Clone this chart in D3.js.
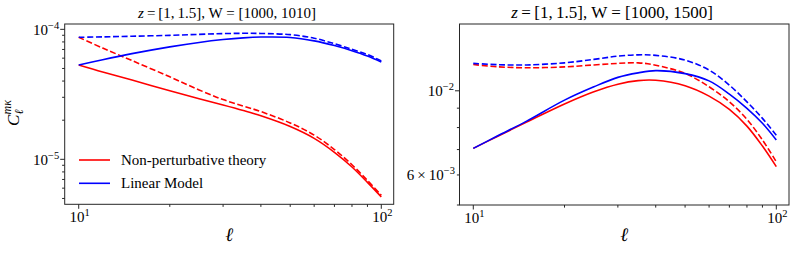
<!DOCTYPE html>
<html><head><meta charset="utf-8">
<script src="https://cdn.jsdelivr.net/npm/d3@7"></script>
<style>
body{margin:0;background:#fff}
svg{display:block}
svg text{font-family:"Liberation Serif","Times New Roman",Times,"DejaVu Serif",serif;fill:#000}
</style>
</head><body>
<svg id="chart" width="797" height="255"></svg>
<script>
// ---------------- data ----------------
const ell = [10, 12, 15, 20, 25, 30, 35, 40, 50, 60, 70, 80, 90, 100];

// left panel: z=[1,1.5], W=[1000,1010]
const leftRedSolid   = [5.31e-5, 4.69e-5, 4.07e-5, 3.37e-5, 2.92e-5, 2.617e-5, 2.372e-5, 2.16e-5, 1.787e-5, 1.449e-5, 1.132e-5, 8.73e-6, 6.65e-6, 5.14e-6];
const leftRedDashed  = [8.68e-5, 7.18e-5, 5.75e-5, 4.31e-5, 3.42e-5, 2.88e-5, 2.57e-5, 2.33e-5, 1.905e-5, 1.536e-5, 1.189e-5, 9.08e-6, 6.88e-6, 5.29e-6];
const leftBlueSolid  = [5.31e-5, 5.84e-5, 6.50e-5, 7.33e-5, 7.93e-5, 8.34e-5, 8.60e-5, 8.72e-5, 8.66e-5, 8.15e-5, 7.50e-5, 6.85e-5, 6.23e-5, 5.60e-5];
const leftBlueDashed = [8.68e-5, 8.75e-5, 8.85e-5, 8.99e-5, 9.15e-5, 9.27e-5, 9.32e-5, 9.30e-5, 9.10e-5, 8.55e-5, 7.75e-5, 7.02e-5, 6.40e-5, 5.72e-5];

// right panel: z=[1,1.5], W=[1000,1500]
const rightRedSolid   = [7.05e-3, 7.58e-3, 8.27e-3, 9.23e-3, 9.94e-3, 1.041e-2, 1.064e-2, 1.066e-2, 1.031e-2, 9.68e-3, 8.93e-3, 8.07e-3, 7.15e-3, 6.31e-3];
const rightRedDashed  = [1.173e-2, 1.157e-2, 1.150e-2, 1.156e-2, 1.170e-2, 1.181e-2, 1.185e-2, 1.168e-2, 1.111e-2, 1.025e-2, 9.35e-3, 8.41e-3, 7.42e-3, 6.50e-3];
const rightBlueSolid  = [7.05e-3, 7.60e-3, 8.32e-3, 9.45e-3, 1.0245e-2, 1.085e-2, 1.115e-2, 1.130e-2, 1.110e-2, 1.062e-2, 9.80e-3, 8.99e-3, 8.21e-3, 7.42e-3];
const rightBlueDashed = [1.181e-2, 1.172e-2, 1.170e-2, 1.185e-2, 1.210e-2, 1.234e-2, 1.244e-2, 1.240e-2, 1.205e-2, 1.134e-2, 1.035e-2, 9.35e-3, 8.46e-3, 7.64e-3];

const legendLabels = ["Non-perturbative theory", "Linear Model"];
const titles = [["z", "\u2009=\u2009[1,\u20091.5], W = [1000, 1010]"], ["z", "\u2009=\u2009[1,\u20091.5], W = [1000, 1500]"]];

const xMajor = [10, 100];
const xMajorLabels = [["", "10", "1"], ["", "10", "2"]];
const xMinor = [20, 30, 40, 50, 60, 70, 80, 90];

const leftYMajor = [1e-4, 1e-5];
const leftYMajorLabels = [["", "10", "\u22124"], ["", "10", "\u22125"]];
const leftYMinor = [9e-5, 8e-5, 7e-5, 6e-5, 5e-5, 4e-5, 3e-5, 2e-5, 9e-6, 8e-6, 7e-6, 6e-6, 5e-6];

const rightYMajor = [1e-2];
const rightYMajorLabels = [["", "10", "\u22122"]];
const rightYMinor = [9e-3, 8e-3, 7e-3, 6e-3, 5e-3];
const rightYMinorLabeled = [6e-3];
const rightYMinorLabels = [["6\u2009\u00d7\u200910", "", "\u22123"]];

// ---------------- drawing ----------------
const FONT = "'Liberation Serif', 'Times New Roman', Times, serif";
const svg = d3.select("#chart");
const RED = "#ff0000", BLUE = "#0000ff", AX = "#262626";

function txt(sel) {
  return sel.append("text").style("font-family", FONT);
}

function richLabel(sel, parts, fs) {
  const [pre, base, exp] = parts;
  if (pre) sel.append("tspan").text(pre);
  if (base) sel.append("tspan").text(base);
  sel.append("tspan").attr("font-size", fs * 0.7).attr("dy", -fs * 0.42).text(exp);
}

function panel(cfg, idx) {
  const g = svg.append("g");
  const x = d3.scaleLog().domain(cfg.xDomain).range([cfg.x0, cfg.x1]);
  const y = d3.scaleLog().domain(cfg.yDomain).range([cfg.y1, cfg.y0]);

  const clipId = "clip" + idx;
  svg.append("clipPath").attr("id", clipId).append("rect")
    .attr("x", cfg.x0).attr("y", cfg.y0).attr("width", cfg.x1 - cfg.x0).attr("height", cfg.y1 - cfg.y0);

  const line = d3.line().x((d, i) => x(ell[i])).y(d => y(d)).curve(d3.curveCatmullRom.alpha(0.5));
  const lg = g.append("g").attr("clip-path", `url(#${clipId})`);
  cfg.series.forEach(s => {
    lg.append("path").attr("d", line(s.values)).attr("fill", "none")
      .attr("stroke", s.color).attr("stroke-width", 1.6)
      .attr("stroke-dasharray", s.dashed ? "6,2.6" : null);
  });

  // frame
  g.append("rect").attr("x", cfg.x0).attr("y", cfg.y0).attr("width", cfg.x1 - cfg.x0).attr("height", cfg.y1 - cfg.y0)
    .attr("fill", "none").attr("stroke", AX).attr("stroke-width", 1);

  // x ticks
  xMajor.forEach((v, i) => {
    const px = x(v);
    g.append("line").attr("x1", px).attr("x2", px).attr("y1", cfg.y1).attr("y2", cfg.y1 + 4.5).attr("stroke", AX);
    const t = txt(g).attr("x", px + 1).attr("y", cfg.y1 + 18).attr("text-anchor", "middle").attr("font-size", 15);
    richLabel(t, xMajorLabels[i], 15);
  });
  xMinor.forEach(v => {
    const px = x(v);
    g.append("line").attr("x1", px).attr("x2", px).attr("y1", cfg.y1).attr("y2", cfg.y1 + 2.6).attr("stroke", AX);
  });

  // y ticks
  cfg.yMajor.forEach((v, i) => {
    const py = y(v);
    g.append("line").attr("x1", cfg.x0 - 4.5).attr("x2", cfg.x0).attr("y1", py).attr("y2", py).attr("stroke", AX);
    const t = txt(g).attr("x", cfg.x0 - 5.5).attr("y", py + 5.5).attr("text-anchor", "end").attr("font-size", 15);
    richLabel(t, cfg.yMajorLabels[i], 15);
  });
  cfg.yMinor.forEach(v => {
    const py = y(v);
    g.append("line").attr("x1", cfg.x0 - 2.6).attr("x2", cfg.x0).attr("y1", py).attr("y2", py).attr("stroke", AX);
  });
  (cfg.yMinorLabeled || []).forEach((v, i) => {
    const py = y(v);
    const t = txt(g).attr("x", cfg.x0 - 4.5).attr("y", py + 5.5).attr("text-anchor", "end").attr("font-size", 15);
    richLabel(t, cfg.yMinorLabels[i], 15);
  });

  // title
  const tt = txt(g).attr("x", cfg.titleX).attr("y", 18).attr("text-anchor", "middle").attr("font-size", cfg.titleSize);
  tt.append("tspan").attr("font-style", "italic").text(cfg.title[0]);
  tt.append("tspan").text(cfg.title[1]);

  // x label
  txt(g).attr("x", (cfg.x0 + cfg.x1) / 2).attr("y", 241).attr("text-anchor", "middle")
    .attr("font-size", 19).attr("font-style", "italic").text("\u2113");
  return {x, y};
}

panel({
  x0: 64.7, x1: 393.7, y0: 24, y1: 204.3,
  xDomain: [Math.pow(10, 0.9537), Math.pow(10, 2.041)],
  yDomain: [Math.pow(10, -5.346), Math.pow(10, -3.959)],
  series: [
    {values: leftRedSolid, color: RED, dashed: false},
    {values: leftRedDashed, color: RED, dashed: true},
    {values: leftBlueSolid, color: BLUE, dashed: false},
    {values: leftBlueDashed, color: BLUE, dashed: true}
  ],
  yMajor: leftYMajor, yMajorLabels: leftYMajorLabels, yMinor: leftYMinor,
  title: titles[0], titleX: 227, titleSize: 15
}, 0);

panel({
  x0: 459.5, x1: 789, y0: 24, y1: 205,
  xDomain: [Math.pow(10, 0.9545), Math.pow(10, 2.0419)],
  yDomain: [0.005, 0.015],
  series: [
    {values: rightRedSolid, color: RED, dashed: false},
    {values: rightRedDashed, color: RED, dashed: true},
    {values: rightBlueSolid, color: BLUE, dashed: false},
    {values: rightBlueDashed, color: BLUE, dashed: true}
  ],
  yMajor: rightYMajor, yMajorLabels: rightYMajorLabels, yMinor: rightYMinor,
  yMinorLabeled: rightYMinorLabeled, yMinorLabels: rightYMinorLabels,
  title: titles[1], titleX: 612, titleSize: 17
}, 1);

// y label (left panel)
const yl = svg.append("g").attr("transform", "translate(19,114) rotate(-90)");
txt(yl).attr("x", -12).attr("y", 0).attr("font-size", 17).attr("font-style", "italic").text("C");
txt(yl).attr("x", -0.5).attr("y", 4).attr("font-size", 12).attr("font-style", "italic").text("\u2113");
txt(yl).attr("x", -0.5).attr("y", -8).attr("font-size", 12).attr("font-style", "italic").text("m\u03ba");

// legend (left panel)
const legColors = [RED, BLUE];
const legend = svg.append("g");
legendLabels.forEach((lab, i) => {
  const ly = 160 + i * 23.3;
  legend.append("line").attr("x1", 79).attr("x2", 110).attr("y1", ly).attr("y2", ly)
    .attr("stroke", legColors[i]).attr("stroke-width", 1.6);
  txt(legend).attr("x", 121).attr("y", ly + 5).attr("font-size", 15).text(lab);
});
</script>
</body></html>
